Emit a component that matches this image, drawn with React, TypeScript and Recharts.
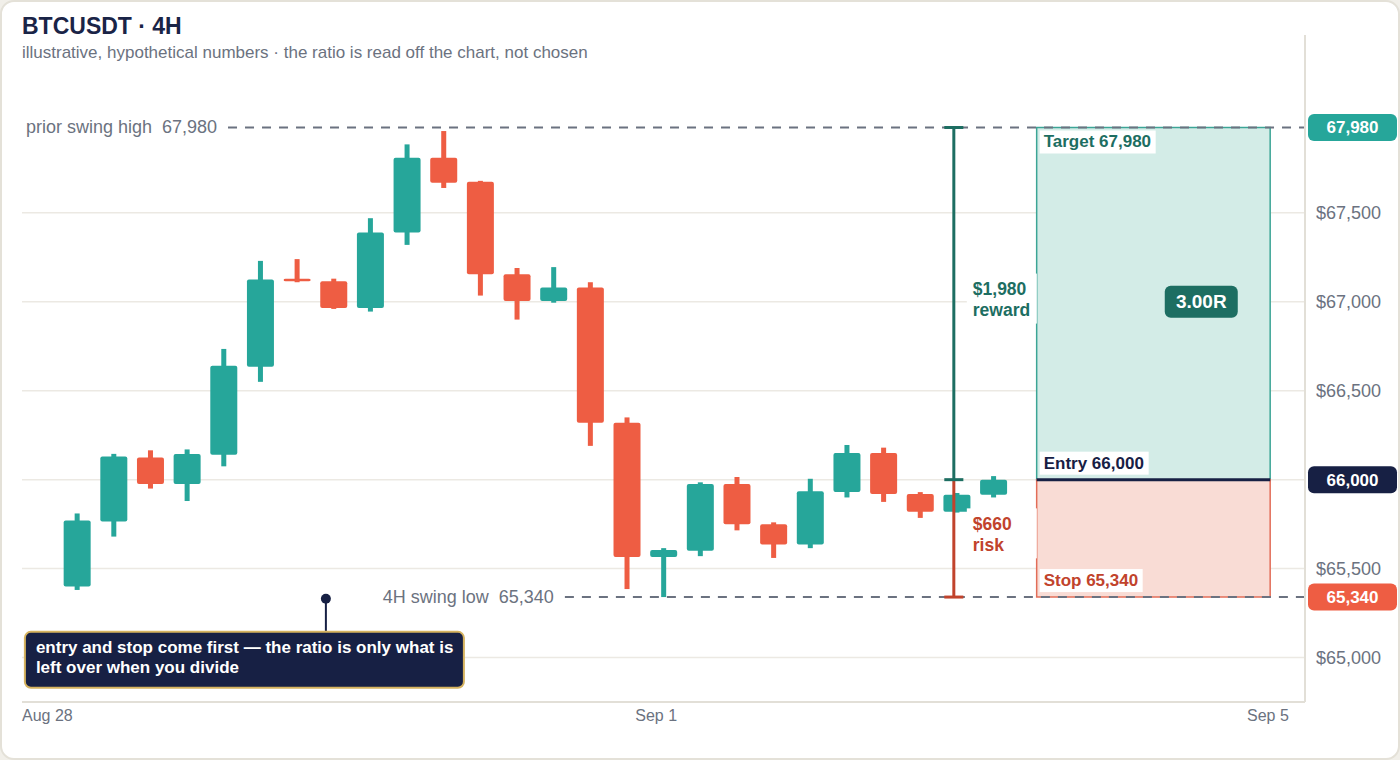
import React from 'react';
import {
  ComposedChart,
  Bar,
  XAxis,
  YAxis,
  CartesianGrid,
  ReferenceArea,
  ReferenceLine,
  ReferenceDot,
} from 'recharts';

// 4H candles, oldest first
const OPEN = [65400, 65765, 66125, 65975, 66140, 66635, 67130, 67115, 66965, 67390, 67810, 67675, 67155, 67005, 67080, 66320, 65565, 65600, 65975, 65750, 65635, 65930, 66150, 65920, 65820, 65915];
const HIGH = [65810, 66145, 66165, 66170, 66735, 67230, 67240, 67130, 67470, 67885, 67960, 67680, 67190, 67195, 67110, 66350, 65615, 65985, 66015, 65760, 66005, 66195, 66180, 65930, 65925, 66020];
const LOW = [65380, 65680, 65950, 65880, 66075, 66550, 67110, 66960, 66945, 67320, 67640, 67035, 66900, 66995, 66190, 65385, 65340, 65570, 65715, 65560, 65615, 65900, 65875, 65785, 65815, 65900];
const CLOSE = [65770, 66130, 65975, 66145, 66640, 67125, 67115, 66965, 67390, 67810, 67670, 67155, 67005, 67080, 66320, 65565, 65605, 65975, 65750, 65635, 65935, 66150, 65920, 65820, 65915, 66000];

const TIME_LABELS = ['Aug 28', 'Sep 1', 'Sep 5'];
const TIME_TICKS = [0, 17.3, 34.56];
const PRICE_TICKS = [65000, 65500, 66000, 66500, 67000, 67500];

const ENTRY = 66000;
const STOP = 65340;
const TARGET = 67980;
const RATIO = (TARGET - ENTRY) / (ENTRY - STOP);

const FIRST_SLOT = 1;
const SLOT_COUNT = 35;

const UP = '#26a69a';
const DOWN = '#ee5d43';
const NAVY = '#172044';
const REWARD = '#1d6e62';
const RISK = '#c1432c';
const MUTED = '#6b7280';
const GRID = '#ece9e3';
const FONT = '"Liberation Sans", Arial, Helvetica, sans-serif';

const fmt = (v: number) => v.toLocaleString('en-US');

const candles = Array.from({ length: SLOT_COUNT }, (_, slot) => {
  const i = slot - FIRST_SLOT;
  if (i < 0 || i >= OPEN.length) return { slot };
  return { slot, open: OPEN[i], high: HIGH[i], low: LOW[i], close: CLOSE[i] };
});

// box / bracket placement on the numeric x axis (slot units)
const BOX_X1 = 27.68;
const BOX_X2 = 34.05;
const BRACKET_X = 25.42;
const CAP = 0.26;

const Candle = (props: any) => {
  const { x, y, width, height, payload } = props;
  if (!payload || payload.open == null) return null;
  const top = Math.min(y, y + height);
  const h = Math.abs(height);
  const { open, close, high, low } = payload;
  const k = h / (high - low);
  const py = (v: number) => top + (high - v) * k;
  const color = close >= open ? UP : DOWN;
  const bodyTop = py(Math.max(open, close));
  const bodyH = Math.max(2.5, py(Math.min(open, close)) - bodyTop);
  const cx = x + width / 2;
  return (
    <g>
      <rect x={cx - 2.5} y={top} width={5} height={h} fill={color} />
      <rect x={x} y={bodyTop} width={width} height={bodyH} rx={2} fill={color} />
    </g>
  );
};

const TimeTick = ({ x, y, payload }: any) => {
  const i = TIME_TICKS.indexOf(payload.value);
  const anchor = i === 0 ? 'start' : i === TIME_TICKS.length - 1 ? 'end' : 'middle';
  return (
    <text x={x} y={y} dy="0.71em" textAnchor={anchor} fill={MUTED} fontSize={16} fontFamily={FONT}>
      {TIME_LABELS[i]}
    </text>
  );
};

const PriceTag = (color: string, value: number) => ({ cx, cy }: any) => (
  <g>
    <rect x={cx + 3} y={cy - 13.5} width={89} height={27} rx={6} fill={color} />
    <text x={cx + 47.5} y={cy + 6} textAnchor="middle" fill="#fff" fontSize={17} fontWeight={700} fontFamily={FONT}>
      {fmt(value)}
    </text>
  </g>
);

const BoxLabel = (text: string, color: string, w: number, dy: number) => ({ cx, cy }: any) => (
  <g>
    <rect x={cx + 3} y={cy + dy} width={w} height={23} fill="#fff" />
    <text x={cx + 7} y={cy + dy + 17} fill={color} fontSize={17} fontWeight={700} fontFamily={FONT}>
      {text}
    </text>
  </g>
);

const SwingLabel = (text: string) => ({ cx, cy }: any) => (
  <text x={cx - 11} y={cy + 6} textAnchor="end" fill={MUTED} fontSize={18} fontFamily={FONT} xmlSpace="preserve" style={{ whiteSpace: 'pre' }}>
    {text}
  </text>
);

const BracketLabel = (amount: string, word: string, color: string) => ({ cx, cy }: any) => (
  <g>
    <rect x={cx + 13} y={cy - 30} width={70} height={50} fill="#fff" />
    <text x={cx + 19} y={cy - 8.5} fill={color} fontSize={17.5} fontWeight={700} fontFamily={FONT}>
      {amount}
    </text>
    <text x={cx + 19} y={cy + 12.5} fill={color} fontSize={17.5} fontWeight={700} fontFamily={FONT}>
      {word}
    </text>
  </g>
);

const RatioBadge = ({ cx, cy }: any) => (
  <g>
    <rect x={cx - 36.5} y={cy - 16} width={73} height={32} rx={6} fill={REWARD} />
    <text x={cx} y={cy + 6.5} textAnchor="middle" fill="#fff" fontSize={19} fontWeight={700} fontFamily={FONT}>
      {RATIO.toFixed(2)}R
    </text>
  </g>
);

const Callout = ({ cx, cy }: any) => (
  <g>
    <line x1={cx} y1={cy} x2={cx} y2={cy + 33} stroke={NAVY} strokeWidth={2} />
    <circle cx={cx} cy={cy} r={5} fill={NAVY} />
    <rect x={cx - 301} y={cy + 33} width={439} height={56} rx={6} fill={NAVY} stroke="#d6b35f" strokeWidth={2} />
    <text x={cx - 290} y={cy + 54} fill="#fff" fontSize={17} fontWeight={700} fontFamily={FONT}>
      entry and stop come first — the ratio is only what is
    </text>
    <text x={cx - 290} y={cy + 74} fill="#fff" fontSize={17} fontWeight={700} fontFamily={FONT}>
      left over when you divide
    </text>
  </g>
);

export default function App() {
  return (
    <div style={{ position: 'relative', width: 1400, height: 760, fontFamily: FONT }}>
      <style>{'body{margin:0;background:#f1efe9}'}</style>
      <div
        style={{
          position: 'absolute',
          inset: 0,
          boxSizing: 'border-box',
          border: '2px solid #e4e1d8',
          borderRadius: 14,
          background: '#fff',
        }}
      />
      <svg width={900} height={70} style={{ position: 'absolute', left: 0, top: 0 }}>
        <text x={22} y={34} fill="#1a2447" fontSize={23} fontWeight={700} fontFamily={FONT}>
          BTCUSDT · 4H
        </text>
        <text x={22} y={58} fill={MUTED} fontSize={17} fontFamily={FONT}>
          illustrative, hypothetical numbers · the ratio is read off the chart, not chosen
        </text>
      </svg>
      <div style={{ position: 'absolute', left: 0, top: 0 }}>
        <ComposedChart width={1400} height={760} data={candles} margin={{ top: 35, right: 0, bottom: 28, left: 22 }}>
          <CartesianGrid xAxisId="num" vertical={false} horizontalValues={PRICE_TICKS} stroke={GRID} strokeWidth={1.5} />
          <XAxis xAxisId="cat" dataKey="slot" type="category" hide height={0} />
          <XAxis
            xAxisId="num"
            dataKey="slot"
            type="number"
            domain={[0, SLOT_COUNT]}
            ticks={TIME_TICKS}
            interval={0}
            allowDataOverflow
            height={30}
            tickLine={false}
            axisLine={{ stroke: '#e2dfd7', strokeWidth: 2 }}
            tick={<TimeTick />}
          />
          <YAxis
            orientation="right"
            domain={[64750, 68500]}
            ticks={PRICE_TICKS}
            allowDataOverflow
            width={95}
            tickLine={false}
            tickSize={6}
            tickMargin={5}
            axisLine={{ stroke: '#e2dfd7', strokeWidth: 2 }}
            tick={{ fill: MUTED, fontSize: 18, fontFamily: FONT }}
            tickFormatter={(v: number) => (v === ENTRY ? '' : '$' + fmt(v))}
          />

          <ReferenceArea xAxisId="num" x1={BOX_X1} x2={BOX_X2} y1={ENTRY} y2={TARGET} fill="#d3ece7" fillOpacity={1} stroke="#3ca596" strokeWidth={1.5} ifOverflow="visible" />
          <ReferenceArea xAxisId="num" x1={BOX_X1} x2={BOX_X2} y1={STOP} y2={ENTRY} fill="#f9dcd5" fillOpacity={1} stroke="#e26d58" strokeWidth={1.5} ifOverflow="visible" />

          <Bar xAxisId="cat" dataKey={(d: any) => (d.open == null ? null : [d.low, d.high])} barSize={27} shape={<Candle />} isAnimationActive={false} />

          <ReferenceLine xAxisId="num" segment={[{ x: 5.62, y: TARGET }, { x: SLOT_COUNT, y: TARGET }]} stroke={MUTED} strokeWidth={2} strokeDasharray="9 8" ifOverflow="visible" />
          <ReferenceLine xAxisId="num" segment={[{ x: 14.81, y: STOP }, { x: SLOT_COUNT, y: STOP }]} stroke={MUTED} strokeWidth={2} strokeDasharray="9 8" ifOverflow="visible" />
          <ReferenceLine xAxisId="num" segment={[{ x: BOX_X1, y: ENTRY }, { x: BOX_X2, y: ENTRY }]} stroke={NAVY} strokeWidth={3} ifOverflow="visible" />

          <ReferenceLine xAxisId="num" segment={[{ x: BRACKET_X, y: ENTRY }, { x: BRACKET_X, y: TARGET }]} stroke={REWARD} strokeWidth={3} ifOverflow="visible" />
          <ReferenceLine xAxisId="num" segment={[{ x: BRACKET_X, y: STOP }, { x: BRACKET_X, y: ENTRY }]} stroke={RISK} strokeWidth={3} ifOverflow="visible" />
          <ReferenceLine xAxisId="num" segment={[{ x: BRACKET_X - CAP, y: TARGET }, { x: BRACKET_X + CAP, y: TARGET }]} stroke={REWARD} strokeWidth={3} ifOverflow="visible" />
          <ReferenceLine xAxisId="num" segment={[{ x: BRACKET_X - CAP, y: ENTRY }, { x: BRACKET_X + CAP, y: ENTRY }]} stroke={REWARD} strokeWidth={3} ifOverflow="visible" />
          <ReferenceLine xAxisId="num" segment={[{ x: BRACKET_X - CAP, y: STOP }, { x: BRACKET_X + CAP, y: STOP }]} stroke={RISK} strokeWidth={3} ifOverflow="visible" />

          <ReferenceDot xAxisId="num" x={5.62} y={TARGET} ifOverflow="visible" shape={SwingLabel(`prior swing high  ${fmt(TARGET)}`)} />
          <ReferenceDot xAxisId="num" x={14.81} y={STOP} ifOverflow="visible" shape={SwingLabel(`4H swing low  ${fmt(STOP)}`)} />

          <ReferenceDot xAxisId="num" x={BOX_X1} y={TARGET} ifOverflow="visible" shape={BoxLabel(`Target ${fmt(TARGET)}`, REWARD, 116, 3)} />
          <ReferenceDot xAxisId="num" x={BOX_X1} y={ENTRY} ifOverflow="visible" shape={BoxLabel(`Entry ${fmt(ENTRY)}`, NAVY, 109, -28)} />
          <ReferenceDot xAxisId="num" x={BOX_X1} y={STOP} ifOverflow="visible" shape={BoxLabel(`Stop ${fmt(STOP)}`, RISK, 103, -28)} />

          <ReferenceDot xAxisId="num" x={BRACKET_X} y={(ENTRY + TARGET) / 2} ifOverflow="visible" shape={BracketLabel(`$${fmt(TARGET - ENTRY)}`, 'reward', REWARD)} />
          <ReferenceDot xAxisId="num" x={BRACKET_X} y={(ENTRY + STOP) / 2} ifOverflow="visible" shape={BracketLabel(`$${fmt(ENTRY - STOP)}`, 'risk', RISK)} />

          <ReferenceDot xAxisId="num" x={32.17} y={67000} ifOverflow="visible" shape={RatioBadge} />

          <ReferenceDot xAxisId="num" x={SLOT_COUNT} y={TARGET} ifOverflow="visible" shape={PriceTag(UP, TARGET)} />
          <ReferenceDot xAxisId="num" x={SLOT_COUNT} y={ENTRY} ifOverflow="visible" shape={PriceTag(NAVY, ENTRY)} />
          <ReferenceDot xAxisId="num" x={SLOT_COUNT} y={STOP} ifOverflow="visible" shape={PriceTag(DOWN, STOP)} />

          <ReferenceDot xAxisId="num" x={8.29} y={65330} ifOverflow="visible" shape={Callout} />
        </ComposedChart>
      </div>
    </div>
  );
}
